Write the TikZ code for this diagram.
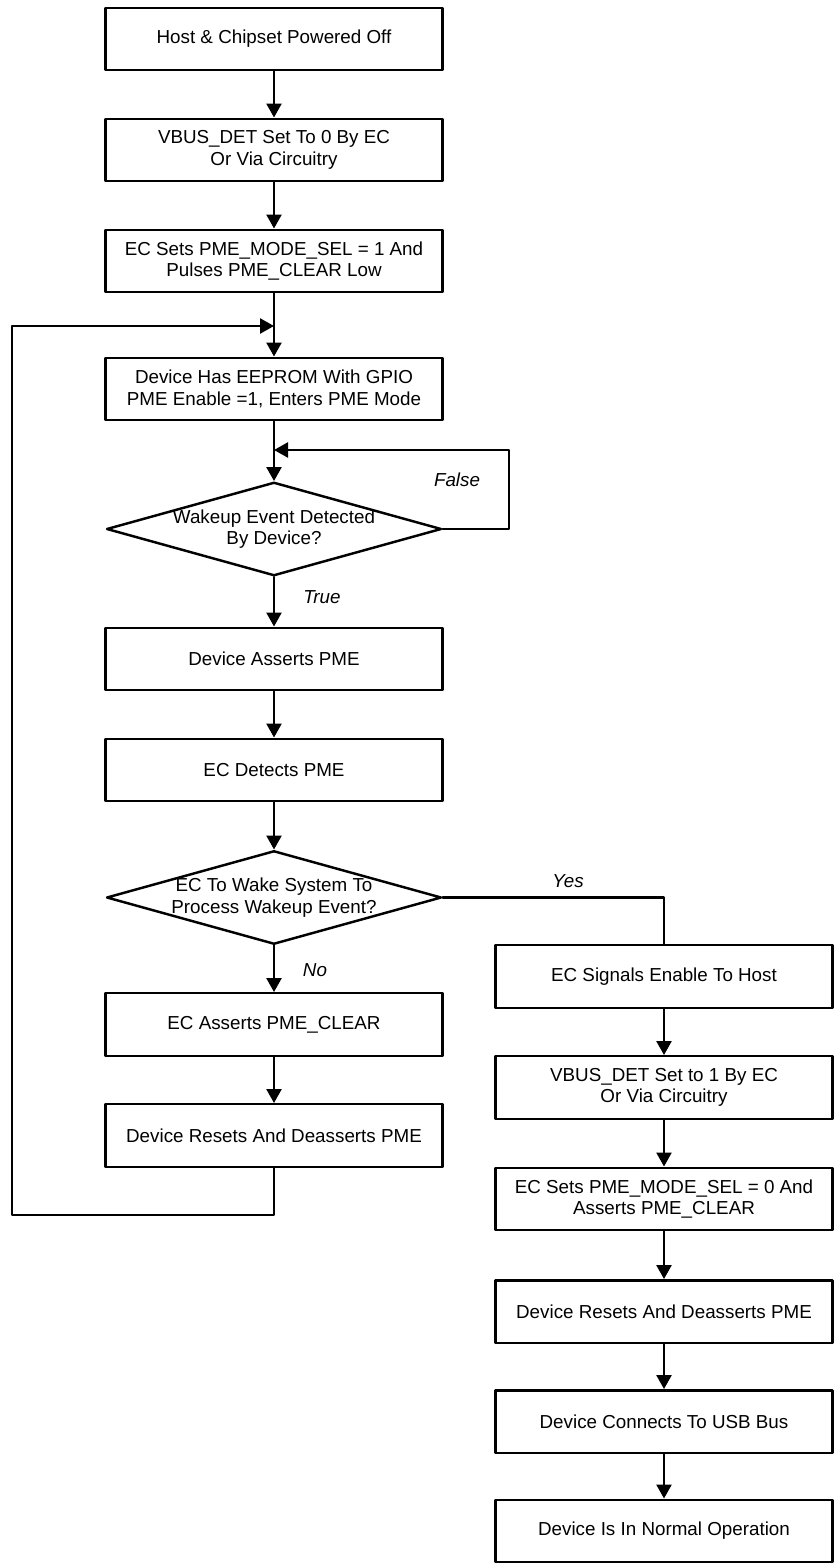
\documentclass[tikz,border=0pt]{standalone}
\usepackage{fontspec}
\setmainfont{Liberation Sans}
\usetikzlibrary{shapes.geometric,arrows.meta}
\begin{document}
\begin{tikzpicture}[x=0.02cm,y=-0.02cm,line cap=round,line join=round,line width=1.4pt,
  every node/.style={font=\fontsize{10.7}{12.3}\selectfont},
  box/.style={draw,minimum width=6.74cm,minimum height=1.25cm,align=center,inner sep=2pt},
  decision/.style={draw,diamond,minimum width=6.7cm,minimum height=1.87cm,inner sep=0pt},
  tag/.style={font=\fontsize{10.7}{12.3}\selectfont\itshape},
  >={Triangle[length=0.28cm,width=0.3cm]}]
\useasboundingbox (0,0) rectangle (839,1564);
\node[box] (n1) at (274,39) {Host \& Chipset Powered Off};
\node[box] (n2) at (274,150) {VBUS\_DET Set To 0 By EC\\Or Via Circuitry};
\node[box] (n3) at (274,261) {EC Sets PME\_MODE\_SEL = 1 And\\Pulses PME\_CLEAR Low};
\node[box] (n4) at (274,389) {Device Has EEPROM With GPIO\\PME Enable =1, Enters PME Mode};
\node[decision] (d1) at (274,529) {};
\node (d1t) at (d1) [align=center] {Wakeup Event Detected\\By Device?};
\node[box] (n5) at (274,659) {Device Asserts PME};
\node[box] (n6) at (274,770) {EC Detects PME};
\node[decision] (d2) at (274,897.5) {};
\node (d2t) at (d2) [align=center] {EC To Wake System To\\Process Wakeup Event?};
\node[box] (n7) at (274,1024.5) {EC Asserts PME\_CLEAR};
\node[box] (n8) at (274,1135.5) {Device Resets And Deasserts PME};
\node[box] (r1) at (664,976.5) {EC Signals Enable To Host};
\node[box] (r2) at (664,1087.5) {VBUS\_DET Set to 1 By EC\\Or Via Circuitry};
\node[box] (r3) at (664,1199) {EC Sets PME\_MODE\_SEL = 0 And\\Asserts PME\_CLEAR};
\node[box] (r4) at (664,1311.5) {Device Resets And Deasserts PME};
\node[box] (r5) at (664,1421.5) {Device Connects To USB Bus};
\node[box] (r6) at (664,1531) {Device Is In Normal Operation};
\coordinate (m1) at (274,326);
\coordinate (m2) at (274,450);
\coordinate (fr) at (509,450);
\coordinate (lb) at (12,1215);
\foreach \a/\b in {n1/n2,n2/n3,n4/d1,d1/n5,n5/n6,n6/d2,d2/n7,n7/n8,r1/r2,r2/r3,r3/r4,r4/r5,r5/r6}
  \draw[->] (\a) -- (\b);
\draw[->] (n3) -- (m1) -- (n4);
\draw[->] (n8.south) |- (lb) |- (m1);
\draw[->] (d1.east) -| (fr) -- (m2);
\draw (d2.east) -| (r1.north);
\node[tag] (lf) at (457,480) {False};
\node[tag] (lt) at (322,597) {True};
\node[tag] (ln) at (315,970) {No};
\node[tag] (ly) at (568,881) {Yes};
\end{tikzpicture}
\end{document}
